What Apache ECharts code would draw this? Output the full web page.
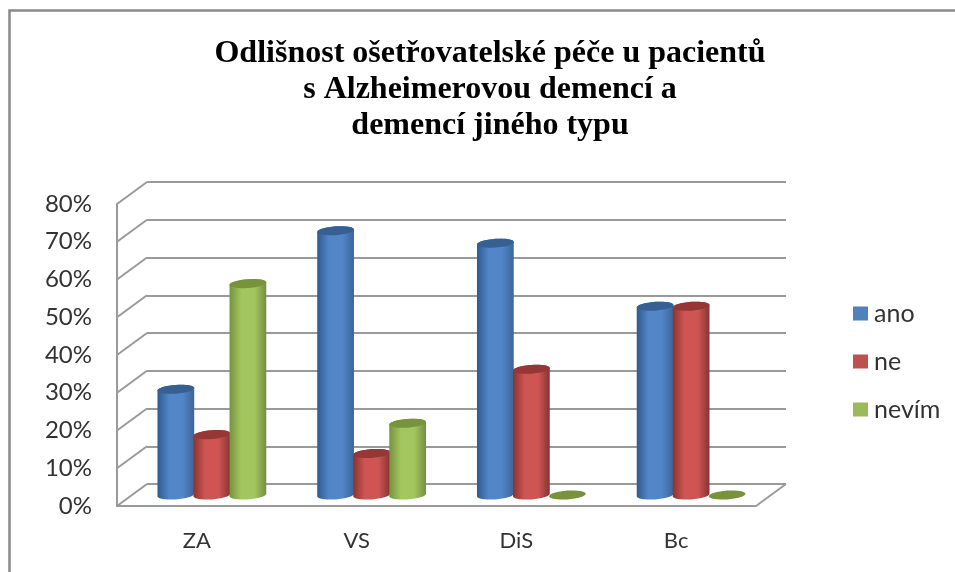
<!DOCTYPE html>
<html>
<head>
<meta charset="utf-8">
<style>html,body{margin:0;padding:0;background:#fff}#chart{width:955px;height:572px}</style>
<script src="https://cdn.jsdelivr.net/npm/echarts@6/dist/echarts.min.js"></script>
</head>
<body>
<div id="chart"></div>
<script>
const titleLines = ['Odlišnost ošetřovatelské péče u pacientů', 's Alzheimerovou demencí a', 'demencí jiného typu'];
const categories = ['ZA', 'VS', 'DiS', 'Bc'];
const ano = [28, 70, 66.7, 50];
const ne = [16, 11, 33.3, 50];
const nevim = [56, 19, 0, 0];
const yTicks = [0, 10, 20, 30, 40, 50, 60, 70, 80];

// Oblique projection of the 3D box: front plane, mid plane (bars), back wall.
const plotW = 639, plotH = 302;
const front = { left: 117, top: 204 };
const mid = { left: 132, top: 193 };
const back = { left: 147, top: 182 };
const gridColor = '#9a9a9a';
const textColor = '#333333';
const labelFont = 'Lato, "Noto Sans", sans-serif';

const palettes = [
  { name: 'ano', values: ano, swatch: '#4f81bd', edgeL: '#2f5a8c', body: '#5286c9', edgeR: '#3b6698', cap: '#376092' },
  { name: 'ne', values: ne, swatch: '#c0504d', edgeL: '#8c3330', body: '#cf5553', edgeR: '#863533', cap: '#953735' },
  { name: 'nevím', values: nevim, swatch: '#9bbb59', edgeL: '#769340', body: '#a4c65e', edgeR: '#748f43', cap: '#77933c' }
];

// Point on a slightly tilted ellipse, as seen in the oblique view.
function rimPoint(cx, cy, rx, ry, t) {
  const tilt = -0.07;
  return [cx + rx * Math.cos(t), cy + ry * Math.sin(t) + tilt * rx * Math.cos(t)];
}
function arc(cx, cy, rx, ry, from, to) {
  const pts = [];
  const steps = 32;
  for (let i = 0; i <= steps; i++) {
    pts.push(rimPoint(cx, cy, rx, ry, from + (to - from) * i / steps));
  }
  return pts;
}

function cylinderRenderer(seriesIndex) {
  const p = palettes[seriesIndex];
  return function (params, api) {
    const base = api.coord([api.value(0), 0]);
    const top = api.coord([api.value(0), api.value(1)]);
    const band = api.size([1, 0])[0];
    const step = band * 0.2255;
    const rx = band * 0.115;
    const ry = 4.4;
    const cx = base[0] + (seriesIndex - 1) * step;
    const children = [];
    if (api.value(1) > 0) {
      const pts = arc(cx, base[1], rx, ry, Math.PI, 0).concat(arc(cx, top[1], rx, ry, 0, -Math.PI));
      children.push({
        type: 'polygon',
        shape: { points: pts },
        style: {
          fill: {
            type: 'linear', x: 0, y: 0, x2: 1, y2: 0,
            colorStops: [
              { offset: 0, color: p.edgeL },
              { offset: 0.32, color: p.body },
              { offset: 0.68, color: p.body },
              { offset: 1, color: p.edgeR }
            ]
          }
        }
      });
    }
    children.push({
      type: 'polygon',
      shape: { points: arc(cx, top[1], rx, ry, 0, Math.PI * 2) },
      style: { fill: p.cap }
    });
    return { type: 'group', children: children };
  };
}

// Side-wall and floor edges running from the front plane to the back wall.
function depthRenderer(params, api) {
  const dx = back.left - front.left;
  const dy = front.top - back.top;
  const pt = api.coord([0, api.value(0)]);
  const x = params.coordSys.x;
  const children = [{
    type: 'line',
    shape: { x1: x, y1: pt[1], x2: x + dx, y2: pt[1] - dy },
    style: { stroke: gridColor, lineWidth: 2 }
  }];
  if (api.value(0) === 0) {
    const xr = x + params.coordSys.width;
    children.push({
      type: 'line',
      shape: { x1: xr, y1: pt[1], x2: xr + dx, y2: pt[1] - dy },
      style: { stroke: gridColor, lineWidth: 2 }
    });
  }
  return { type: 'group', children: children };
}

const hiddenAxis = { show: false };
const chart = echarts.init(document.getElementById('chart'));
chart.setOption({
  animation: false,
  backgroundColor: '#ffffff',
  title: {
    text: titleLines.join('\n'),
    left: 485, top: 31, textAlign: 'center',
    textStyle: {
      fontFamily: '"Liberation Serif", serif', fontWeight: 'bold',
      fontSize: 32, lineHeight: 36, color: '#000000'
    }
  },
  graphic: [{
    type: 'polyline', silent: true,
    shape: { points: [[9.5, 572], [9.5, 10.5], [955, 10.5]] },
    style: { stroke: '#8a8a8a', lineWidth: 2.5, fill: 'none' }
  }],
  legend: {
    orient: 'vertical', left: 848, top: 296,
    itemWidth: 15, itemHeight: 14, itemGap: 23,
    icon: 'rect',
    data: palettes.map(p => p.name),
    textStyle: { fontFamily: labelFont, fontSize: 25, color: textColor, padding: [0, 0, 0, 1] }
  },
  grid: [
    { left: front.left, top: front.top, width: plotW, height: plotH },
    { left: back.left, top: back.top, width: plotW, height: plotH },
    { left: mid.left, top: mid.top, width: plotW, height: plotH }
  ],
  xAxis: [
    {
      gridIndex: 0, type: 'category', data: categories,
      axisTick: { show: false },
      axisLine: { lineStyle: { color: gridColor, width: 2 } },
      axisLabel: { margin: 24, fontFamily: labelFont, fontSize: 22, color: textColor }
    },
    { gridIndex: 1, type: 'category', data: categories, ...hiddenAxis },
    { gridIndex: 2, type: 'category', data: categories, ...hiddenAxis }
  ],
  yAxis: [
    {
      gridIndex: 0, type: 'value', min: 0, max: 80, interval: 10,
      splitLine: { show: false },
      axisTick: { show: false },
      axisLine: { show: true, lineStyle: { color: gridColor, width: 2 } },
      axisLabel: { margin: 25, padding: [6, 0, 0, 0], formatter: '{value}%', fontFamily: labelFont, fontSize: 24, color: textColor }
    },
    {
      gridIndex: 1, type: 'value', min: 0, max: 80, interval: 10,
      axisLabel: { show: false }, axisTick: { show: false }, axisLine: { show: false },
      splitLine: { show: true, lineStyle: { color: gridColor, width: 2 } }
    },
    { gridIndex: 2, type: 'value', min: 0, max: 80, interval: 10, ...hiddenAxis }
  ],
  series: [
    {
      type: 'custom', name: 'depth', xAxisIndex: 0, yAxisIndex: 0, z: 1,
      silent: true, clip: false,
      data: yTicks.map(v => [v]),
      encode: { y: 0 },
      renderItem: depthRenderer
    }
  ].concat(palettes.map((p, i) => ({
    type: 'custom', name: p.name, xAxisIndex: 2, yAxisIndex: 2, z: 3 + i,
    itemStyle: { color: p.swatch },
    clip: false,
    encode: { x: 0, y: 1 },
    data: p.values.map((v, k) => [k, v]),
    renderItem: cylinderRenderer(i)
  })))
});
</script>
</body>
</html>
